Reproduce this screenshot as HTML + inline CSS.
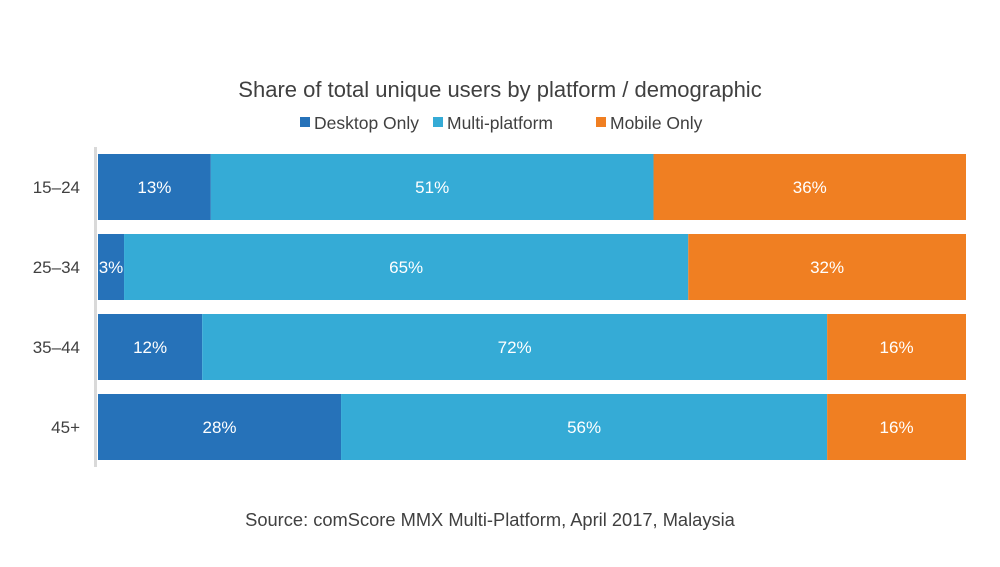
<!DOCTYPE html>
<html><head><meta charset="utf-8"><style>
body{margin:0;background:#fff;width:1000px;height:562px;overflow:hidden;font-family:"Liberation Sans",Arial,sans-serif}
</style></head><body>
<svg id="chart" width="1000" height="562" xmlns="http://www.w3.org/2000/svg" font-family="Liberation Sans, Arial, sans-serif">
<text x="500" y="97" text-anchor="middle" font-size="22" fill="#404040">Share of total unique users by platform / demographic</text>
<g>
<rect x="300" y="117" width="10" height="10" fill="#2672b9"/>
<text x="314" y="129" font-size="17.5" fill="#404040">Desktop Only</text>
<rect x="433" y="117" width="10" height="10" fill="#35abd6"/>
<text x="447" y="129" font-size="17.5" fill="#404040">Multi-platform</text>
<rect x="596" y="117" width="10" height="10" fill="#f07f22"/>
<text x="610" y="129" font-size="17.5" fill="#404040">Mobile Only</text>
</g>
<rect x="94" y="147" width="3" height="320" fill="#d9d9d9"/>
<g id="bars"></g>
<text x="490" y="526" text-anchor="middle" font-size="18.3" fill="#404040">Source: comScore MMX Multi-Platform, April 2017, Malaysia</text>
</svg>
<script>
const categories=["15–24","25–34","35–44","45+"];
const desktop=[13,3,12,28];
const multi=[51,65,72,56];
const mobile=[36,32,16,16];
const seriesNames=["desktop","multi","mobile"];
const colors=["#2672b9","#35abd6","#f07f22"];
const x0=98,x1=966,top0=154,step=80,bh=66;
const xs=v=>x0+(x1-x0)*v/100;
const g=document.getElementById('bars');
const NS="http://www.w3.org/2000/svg";
categories.forEach((c,i)=>{
  const y=top0+i*step;
  const lab=document.createElementNS(NS,'text');
  
  
  lab.setAttribute('x',80);lab.setAttribute('y',y+bh/2+6);
  lab.setAttribute('text-anchor','end');lab.setAttribute('font-size','17');lab.setAttribute('fill','#404040');
  lab.textContent=c;g.appendChild(lab);
  const vals=[desktop[i],multi[i],mobile[i]];
  let cum=0;
  vals.forEach((v,j)=>{
    const a=xs(cum),b=xs(cum+v);cum+=v;
    const r=document.createElementNS(NS,'rect');
    
    
    r.setAttribute('x',a);r.setAttribute('y',y);r.setAttribute('width',b-a);r.setAttribute('height',bh);
    r.setAttribute('fill',colors[j]);g.appendChild(r);
    const t=document.createElementNS(NS,'text');
    
    
    t.setAttribute('x',(a+b)/2);t.setAttribute('y',y+bh/2+6);
    t.setAttribute('text-anchor','middle');t.setAttribute('font-size','17');t.setAttribute('fill','#fff');
    t.textContent=v+'%';g.appendChild(t);
  });
});
</script>
</body></html>
